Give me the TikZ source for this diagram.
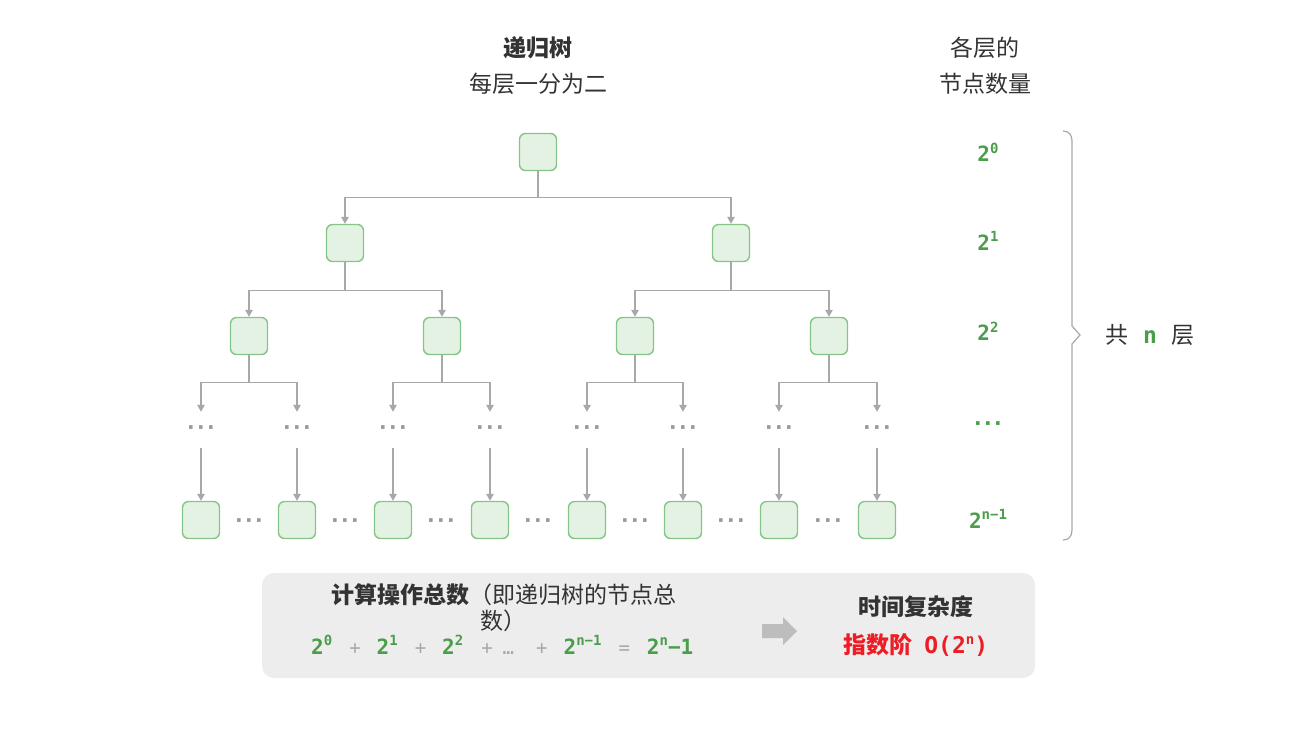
\documentclass[tikz,border=0pt]{standalone}
\usepackage{fontspec}
\setmainfont{Noto Sans CJK SC}
\newfontfamily\monof{DejaVu Sans Mono}
\newfontfamily\dvf{DejaVu Sans}
\usetikzlibrary{arrows.meta}
\definecolor{tgreen}{HTML}{4A9D4A}
\definecolor{nstroke}{HTML}{86C488}
\definecolor{nfill}{HTML}{E4F2E4}
\definecolor{lgray}{HTML}{A8A8A8}
\definecolor{dotgray}{HTML}{9A9A9A}
\definecolor{dgray}{HTML}{333333}
\definecolor{panelgray}{HTML}{EDEDED}
\definecolor{arrgray}{HTML}{BDBDBD}
\definecolor{tred}{HTML}{EE1C25}
\newcommand{\pw}[1]{\raisebox{0.40em}{\fontsize{14}{14}\selectfont #1}}
\newcommand{\op}[3]{\hspace{#1pt}{\color{lgray}\mdseries\fontsize{19}{19}\selectfont #2}\hspace{#3pt}}
\newcommand{\tdots}{·\kern2.4pt·\kern2.4pt·}
\begin{document}
\begin{tikzpicture}[x=1pt,y=-1pt,
  tn/.style={draw=nstroke, fill=nfill, line width=1.4pt, rounded corners=6pt, minimum size=37pt, inner sep=0pt},
  arr/.style={draw=lgray, line width=1.2pt, -{Triangle[width=7.5pt,length=7pt]}},
  dots/.style={text=dotgray, font=\dvf\bfseries\fontsize{20}{20}\selectfont, minimum height=36pt, inner sep=0pt},
  cjk/.style={text=dgray, font=\fontsize{23}{28}\selectfont},
  lab/.style={text=tgreen, font=\monof\bfseries\fontsize{21}{24}\selectfont},
]
\useasboundingbox (0,0) rectangle (1290,732);

% titles
\node[cjk, font=\bfseries\fontsize{23}{28}\selectfont] (title) at (538,48) {递归树};
\node[cjk] (sub) at (538,84) {每层一分为二};
\node[cjk] (h1) at (985,48) {各层的};
\node[cjk] (h2) at (985,84) {节点数量};

% tree
\node[tn] (r) at (538,152) {};
\node[tn] (a1) at (345,243) {};
\node[tn] (a2) at (731,243) {};
\node[tn] (c1) at (249,336) {};
\node[tn] (c2) at (442,336) {};
\node[tn] (c3) at (635,336) {};
\node[tn] (c4) at (829,336) {};
\foreach \i/\x in {1/201,2/297,3/393,4/490,5/587,6/683,7/779,8/877}{
  \node[dots] (d\i) at (\x,430) {\tdots};
  \node[tn] (e\i) at (\x,520) {};
  \draw[arr] (d\i.south) -- (e\i.north);
}
\foreach \i/\x in {1/249,2/345,3/441,4/538,5/635,6/731,7/828}{
  \node[dots] (g\i) at (\x,523) {\tdots};
}

\draw[arr] (r.south) -- ++(0,26) -| (a1.north);
\draw[arr] (r.south) -- ++(0,26) -| (a2.north);
\draw[arr] (a1.south) -- ++(0,28) -| (c1.north);
\draw[arr] (a1.south) -- ++(0,28) -| (c2.north);
\draw[arr] (a2.south) -- ++(0,28) -| (c3.north);
\draw[arr] (a2.south) -- ++(0,28) -| (c4.north);
\draw[arr] (c1.south) -- ++(0,27.5) -| (d1.north);
\draw[arr] (c1.south) -- ++(0,27.5) -| (d2.north);
\draw[arr] (c2.south) -- ++(0,27.5) -| (d3.north);
\draw[arr] (c2.south) -- ++(0,27.5) -| (d4.north);
\draw[arr] (c3.south) -- ++(0,27.5) -| (d5.north);
\draw[arr] (c3.south) -- ++(0,27.5) -| (d6.north);
\draw[arr] (c4.south) -- ++(0,27.5) -| (d7.north);
\draw[arr] (c4.south) -- ++(0,27.5) -| (d8.north);

% level counts
\node[lab] (l0) at (988,152) {2\pw{0}};
\node[lab] (l1) at (988,241) {2\pw{1}};
\node[lab] (l2) at (988,331) {2\pw{2}};
\node[dots, text=tgreen] (l3) at (988,426) {\tdots};
\node[lab] (l4) at (988,519) {2\pw{n−1}};

% brace
\draw[lgray, line width=1.2pt] (1063,131) .. controls (1069,131) and (1072,135) .. (1072,141)
  -- (1072,326) -- (1080,335) -- (1072,344) -- (1072,530)
  .. controls (1072,536) and (1069,540) .. (1063,540);
\node[cjk] (tot) at (1150,335) {共\hspace{0.62em}{\monof\bfseries\color{tgreen}n}\hspace{0.62em}层};

% bottom panel
\fill[panelgray, rounded corners=12pt] (262,573) rectangle (1035,678);
\node[cjk, inner sep=0pt] (t1) at (504,595) {{\bfseries 计算操作总数}（即递归树的节点总};
\node[cjk, inner sep=0pt] (t2) at (503,621) {数）};
\node[text=tgreen, font=\monof\bfseries\fontsize{21}{24}\selectfont, inner sep=0pt, anchor=base west] (eq) at (311,654)
  {2\pw{0}\op{17}{+}{16}2\pw{1}\op{17}{+}{16}2\pw{2}\op{18}{+}{10}{\color{lgray}\mdseries\fontsize{19}{19}\selectfont …}\op{22}{+}{16}2\pw{n−1}\op{17}{=}{17}2\pw{n}−1};
\fill[arrgray] (762,624) -- (783,624) -- (783,617) -- (797,631) -- (783,645) -- (783,638) -- (762,638) -- cycle;
\node[cjk, font=\bfseries\fontsize{23}{28}\selectfont] (tc) at (916,607) {时间复杂度};
\node[text=tred, font=\bfseries\fontsize{23}{28}\selectfont] (tv) at (916,645) {指数阶\hspace{0.5em}{\monof O(2\pw{n})}};
\end{tikzpicture}
\end{document}
